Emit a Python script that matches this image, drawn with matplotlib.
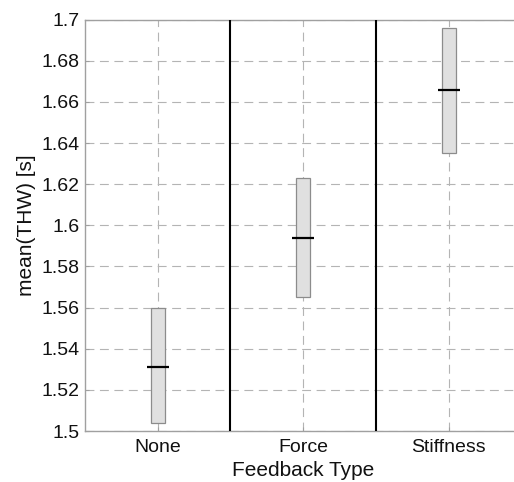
import numpy as np
import matplotlib
matplotlib.use("Agg")
import matplotlib.pyplot as plt

plt.rcParams['font.family'] = ['Liberation Sans', 'DejaVu Sans']

categories = ["None", "Force", "Stiffness"]
box_low = [1.504, 1.565, 1.635]
box_high = [1.560, 1.623, 1.696]
means = [1.531, 1.594, 1.666]

fig = plt.figure(figsize=(5.14, 4.82), dpi=100)
ax = fig.add_axes([0.1654, 0.1058, 0.849, 0.8533])

x = np.arange(len(categories))
ax.set_xlim(-0.5, 2.5)
ax.set_ylim(1.5, 1.7)

# grid
ax.set_yticks(np.arange(1.5, 1.7001, 0.02))
ax.set_yticklabels(["1.5", "1.52", "1.54", "1.56", "1.58", "1.6",
                    "1.62", "1.64", "1.66", "1.68", "1.7"])
ax.set_xticks(x)
ax.set_xticklabels(categories)
ax.grid(True, color="#b4b4b4", linestyle=(0, (8, 5)), linewidth=0.8)
ax.set_axisbelow(True)

# group separators
for sep in [0.5, 1.5]:
    ax.axvline(sep, color="black", linewidth=1.5, zorder=3)

# boxes
heights = [h - l for h, l in zip(box_high, box_low)]
ax.bar(x, heights, bottom=box_low, width=0.096, color="#e0e0e0",
       edgecolor="#8c8c8c", linewidth=0.9, zorder=4)
ax.hlines(means, x - 0.075, x + 0.075, color="black", linewidth=1.6, zorder=5)

for s in ax.spines.values():
    s.set_color("#a0a0a0")
    s.set_linewidth(1.0)
ax.spines["right"].set_visible(False)
ax.tick_params(direction="in", length=3, color="#a0a0a0", labelsize=14,
               labelcolor="#111111")
ax.tick_params(axis="x", pad=6)
ax.tick_params(axis="y", pad=4)

ax.set_xlabel("Feedback Type", fontsize=15, color="#111111", labelpad=3)
ax.set_ylabel("mean(THW) [s]", fontsize=15, color="#111111", labelpad=4)

fig.savefig("out.png", dpi=100)
